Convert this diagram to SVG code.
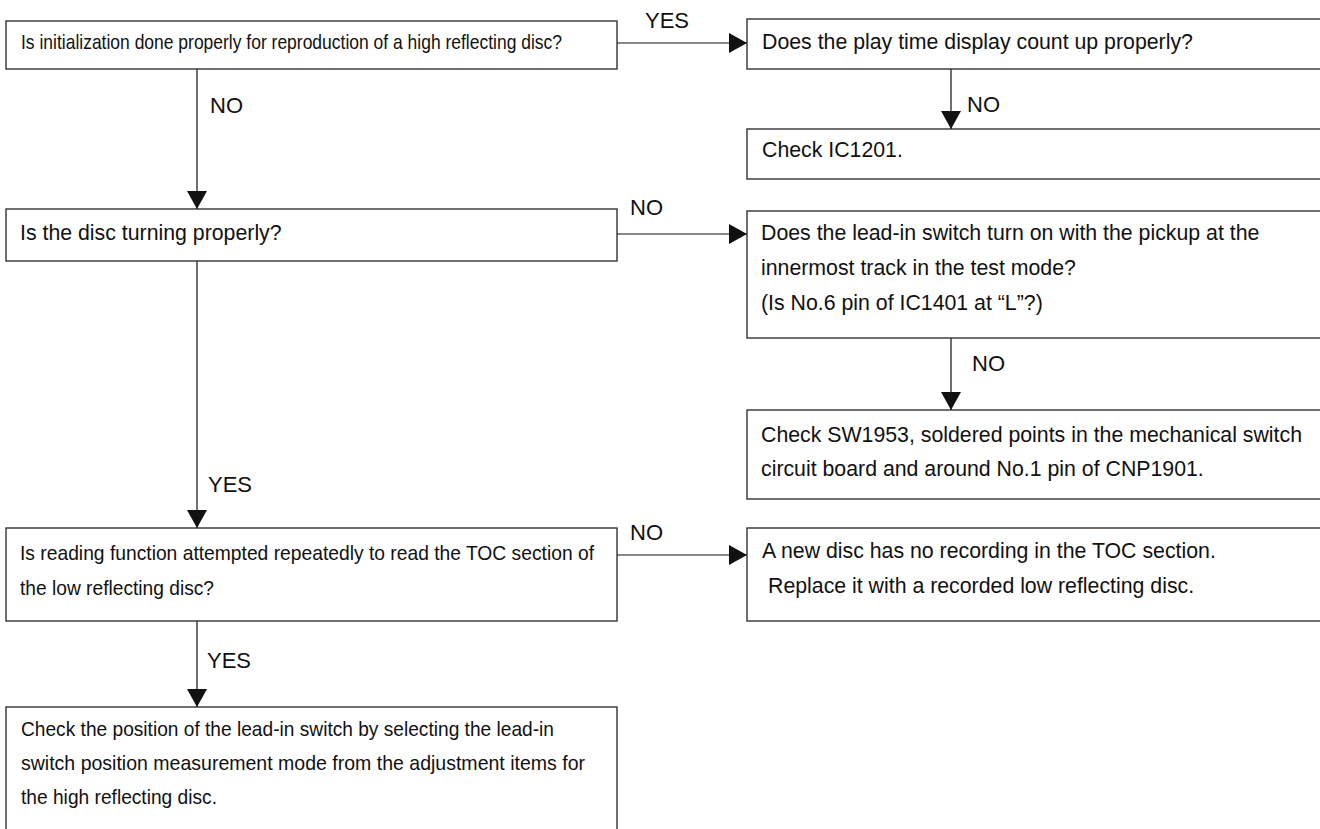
<svg xmlns="http://www.w3.org/2000/svg" width="1320" height="829" viewBox="0 0 1320 829">
<style>
.box{fill:#fff;stroke:#222;stroke-width:1.3}
.t{font-family:"Liberation Sans",Arial,sans-serif;font-size:21.3px;fill:#111}
.tn{font-family:"Liberation Sans",Arial,sans-serif;font-size:21px;fill:#111}
.lbl{font-family:"Liberation Sans",Arial,sans-serif;font-size:22px;fill:#111}
.c{stroke:#111;stroke-width:1.2;fill:none}
</style>
<defs>
<marker id="ah" markerUnits="userSpaceOnUse" markerWidth="18" markerHeight="20" refX="18" refY="10" orient="auto">
<path d="M0,0 L18,10 L0,20 z" fill="#111"/>
</marker>
</defs>
<rect width="1320" height="829" fill="#fff"/>
<g id="connectors">
<line class="c" x1="617" y1="43" x2="747" y2="43" marker-end="url(#ah)"/>
<line class="c" x1="951" y1="69" x2="951" y2="129" marker-end="url(#ah)"/>
<line class="c" x1="197" y1="69" x2="197" y2="209" marker-end="url(#ah)"/>
<line class="c" x1="617" y1="234" x2="747" y2="234" marker-end="url(#ah)"/>
<line class="c" x1="951" y1="338" x2="951" y2="410" marker-end="url(#ah)"/>
<line class="c" x1="197" y1="261" x2="197" y2="528" marker-end="url(#ah)"/>
<line class="c" x1="617" y1="555" x2="747" y2="555" marker-end="url(#ah)"/>
<line class="c" x1="197" y1="621" x2="197" y2="707" marker-end="url(#ah)"/>
<text class="lbl" x="645" y="28">YES</text>
<text class="lbl" x="967" y="112">NO</text>
<text class="lbl" x="210" y="113">NO</text>
<text class="lbl" x="630" y="215">NO</text>
<text class="lbl" x="972" y="371">NO</text>
<text class="lbl" x="208" y="492">YES</text>
<text class="lbl" x="630" y="540">NO</text>
<text class="lbl" x="207" y="668">YES</text>
</g>
<g id="n1">
<rect class="box" x="6" y="21" width="611" height="48"/>
<text class="tn" x="21" y="49" textLength="541" lengthAdjust="spacingAndGlyphs">Is initialization done properly for reproduction of a high reflecting disc?</text>
</g>
<g id="n2">
<rect class="box" x="747" y="19" width="580" height="50"/>
<text class="t" x="762" y="49">Does the play time display count up properly?</text>
</g>
<g id="n3">
<rect class="box" x="747" y="129" width="580" height="50"/>
<text class="t" x="762" y="157">Check IC1201.</text>
</g>
<g id="n4">
<rect class="box" x="6" y="209" width="611" height="52"/>
<text class="t" x="20" y="240">Is the disc turning properly?</text>
</g>
<g id="n5">
<rect class="box" x="747" y="211" width="580" height="127"/>
<text class="t" x="761" y="240">Does the lead-in switch turn on with the pickup at the</text>
<text class="t" x="761" y="275">innermost track in the test mode?</text>
<text class="t" x="761" y="310">(Is No.6 pin of IC1401 at “L”?)</text>
</g>
<g id="n6">
<rect class="box" x="747" y="410" width="580" height="89"/>
<text class="t" x="761" y="442">Check SW1953, soldered points in the mechanical switch</text>
<text class="t" x="761" y="476">circuit board and around No.1 pin of CNP1901.</text>
</g>
<g id="n7">
<rect class="box" x="6" y="528" width="611" height="93"/>
<text class="tn" x="20" y="560" textLength="574" lengthAdjust="spacingAndGlyphs">Is reading function attempted repeatedly to read the TOC section of</text>
<text class="tn" x="20" y="595" textLength="194" lengthAdjust="spacingAndGlyphs">the low reflecting disc?</text>
</g>
<g id="n8">
<rect class="box" x="747" y="528" width="580" height="93"/>
<text class="t" x="762" y="558">A new disc has no recording in the TOC section.</text>
<text class="t" x="768" y="593">Replace it with a recorded low reflecting disc.</text>
</g>
<g id="n9">
<rect class="box" x="6" y="707" width="611" height="140"/>
<text class="tn" x="21" y="736" textLength="533" lengthAdjust="spacingAndGlyphs">Check the position of the lead-in switch by selecting the lead-in</text>
<text class="tn" x="21" y="770" textLength="564" lengthAdjust="spacingAndGlyphs">switch position measurement mode from the adjustment items for</text>
<text class="tn" x="21" y="804" textLength="196" lengthAdjust="spacingAndGlyphs">the high reflecting disc.</text>
</g>
</svg>
